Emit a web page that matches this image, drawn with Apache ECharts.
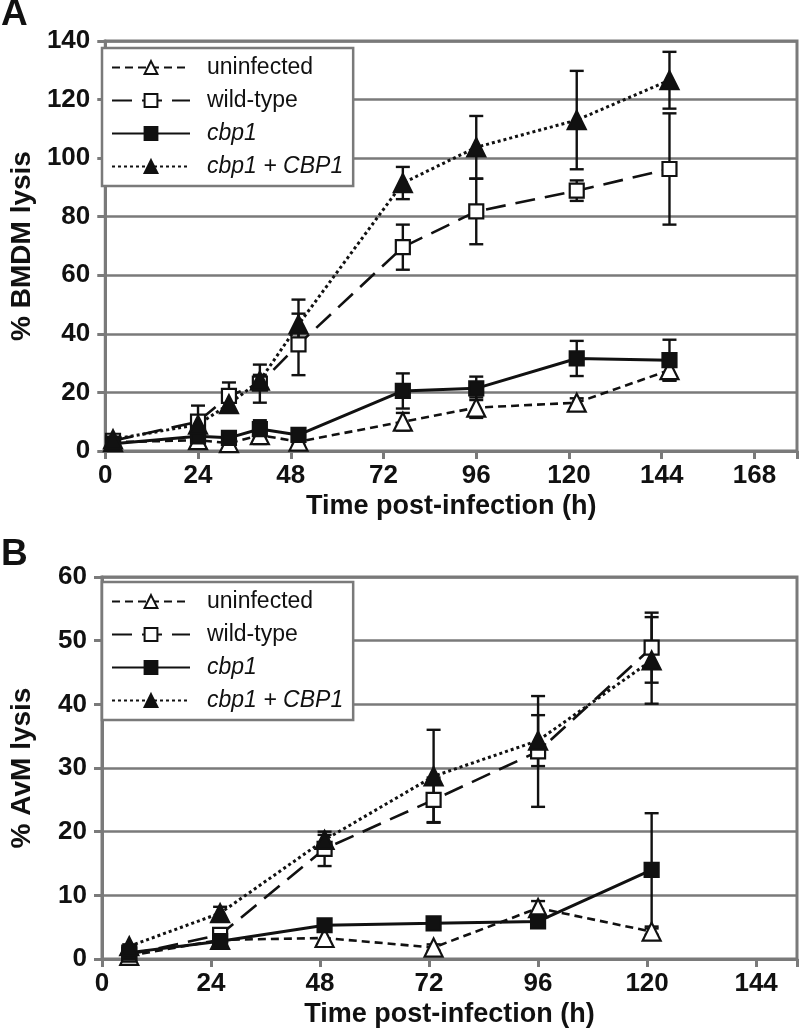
<!DOCTYPE html>
<html>
<head>
<meta charset="utf-8">
<script src="https://cdn.jsdelivr.net/npm/echarts@6/dist/echarts.min.js"></script>
<style>html,body{margin:0;padding:0;background:#fff;}#c{width:800px;height:1031px;}</style>
</head>
<body>
<div id="c"></div>
<script>
// ---- Panel A data (BMDM) ----
const timeA = [2, 24, 32, 40, 50, 77, 96, 122, 146];
const uninfA = [3, 3.7, 2.7, 5.4, 3.2, 10, 14.8, 16.5, 27.6];
const uninfAErr = [1, 1.5, 1.5, 3, 1, 3, 3.5, 1.5, 3.5];
const wtA = [3.5, 10, 18.8, 23, 36.4, 69.6, 81.8, 88.9, 96.3];
const wtAErr = [1, 5.5, 4.6, 6.5, 10.5, 7.7, 11.2, 3.5, 19];
const cbp1A = [2.5, 5, 4.5, 7.5, 5.5, 20.5, 21.4, 31.6, 31];
const cbp1AErr = [1, 2, 2, 3, 2, 6, 4, 6, 7];
const compA = [4, 9, 16, 24, 43.2, 91.5, 103.7, 113, 126.6];
const compAErr = [1, 2, 2, 2, 8.5, 5.5, 10.7, 16.8, 9.7];

// ---- Panel B data (AvM) ----
const timeB = [6, 26, 49, 73, 96, 121];
const uninfB = [0.5, 3, 3.3, 1.8, 8, 4.3];
const uninfBErr = [0.3, 0.5, 1, 0.5, 1.1, 0.5];
const wtB = [0.7, 3.8, 17.3, 25, 32.6, 48.9];
const wtBErr = [0.3, 0.5, 2.7, 3.5, 8.7, 5.5];
const cbp1B = [1, 2.8, 5.3, 5.6, 5.9, 14];
const cbp1BErr = [0.3, 0.5, 0.7, 0.8, 0.8, 8.9];
const compB = [2, 7.2, 18.7, 28.7, 34.3, 46.9];
const compBErr = [0.3, 1, 0.8, 7.3, 4, 6.8];

const seriesNames = ['uninfected', 'wild-type', 'cbp1', 'cbp1 + CBP1'];

const FONT = 'Liberation Sans, Arial, sans-serif';
const GRID = '#7a7a7a';

function pairs(t, v) { return t.map((x, i) => [x, v[i]]); }
function errData(t, v, e) { return t.map((x, i) => [x, v[i] - e[i], v[i] + e[i]]); }

const styles = [
  { symbol: 'triangle', size: 18, fill: '#fff', line: { type: [8, 5], width: 2.6 } },
  { symbol: 'rect', size: 14, fill: '#fff', line: { type: [20, 10], width: 2.6 } },
  { symbol: 'rect', size: 14, fill: '#111', line: { type: 'solid', width: 3 } },
  { symbol: 'triangle', size: 18, fill: '#111', line: { type: [3, 3], width: 3 } }
];

function errSeries(axisIdx, t, v, e) {
  return {
    type: 'custom', xAxisIndex: axisIdx, yAxisIndex: axisIdx,
    data: errData(t, v, e), animation: false, silent: true, z: 4,
    renderItem: function (params, api) {
      const x = api.value(0);
      const lo = api.coord([x, api.value(1)]);
      const hi = api.coord([x, api.value(2)]);
      const w = 7;
      const st = { stroke: '#111', lineWidth: 2.4 };
      return {
        type: 'group',
        children: [
          { type: 'line', shape: { x1: lo[0], y1: lo[1], x2: hi[0], y2: hi[1] }, style: st },
          { type: 'line', shape: { x1: lo[0] - w, y1: lo[1], x2: lo[0] + w, y2: lo[1] }, style: st },
          { type: 'line', shape: { x1: hi[0] - w, y1: hi[1], x2: hi[0] + w, y2: hi[1] }, style: st }
        ]
      };
    }
  };
}

function mk(axisIdx, idx, name, t, v) {
  const s = styles[idx];
  return {
    type: 'line', name: name, xAxisIndex: axisIdx, yAxisIndex: axisIdx,
    data: pairs(t, v), symbol: s.symbol, symbolSize: s.size,
    showAllSymbol: true,
    lineStyle: { color: '#111', width: s.line.width, type: s.line.type },
    itemStyle: { color: s.fill, borderColor: '#111', borderWidth: 2.2 },
    emphasis: { disabled: true }, animation: false, z: 5
  };
}

const series = [
  errSeries(0, timeA, uninfA, uninfAErr),
  errSeries(0, timeA, wtA, wtAErr),
  errSeries(0, timeA, cbp1A, cbp1AErr),
  errSeries(0, timeA, compA, compAErr),
  mk(0, 0, seriesNames[0], timeA, uninfA),
  mk(0, 1, seriesNames[1], timeA, wtA),
  mk(0, 2, seriesNames[2], timeA, cbp1A),
  mk(0, 3, seriesNames[3], timeA, compA),
  errSeries(1, timeB, uninfB, uninfBErr),
  errSeries(1, timeB, wtB, wtBErr),
  errSeries(1, timeB, cbp1B, cbp1BErr),
  errSeries(1, timeB, compB, compBErr),
  mk(1, 0, seriesNames[0], timeB, uninfB),
  mk(1, 1, seriesNames[1], timeB, wtB),
  mk(1, 2, seriesNames[2], timeB, cbp1B),
  mk(1, 3, seriesNames[3], timeB, compB)
];

const legendData = seriesNames.map((n, i) => i >= 2
  ? { name: n, textStyle: { fontStyle: 'italic' } } : { name: n });

function legend(top) {
  return {
    data: legendData, orient: 'vertical', left: 102, top: top,
    itemWidth: 78, itemHeight: 16, itemGap: 10,
    padding: [8, 10, 8, 9],
    backgroundColor: '#fff', borderColor: GRID, borderWidth: 2.5,
    selectedMode: false,
    textStyle: { fontFamily: FONT, fontSize: 23, color: '#111', padding: [0, 0, 0, 12] }
  };
}

function xAxis(gi, max) {
  return {
    type: 'value', gridIndex: gi, min: 0, max: max, interval: 24,
    name: 'Time post-infection (h)', nameLocation: 'middle', nameGap: 42,
    nameTextStyle: { fontFamily: FONT, fontSize: 27, fontWeight: 'bold', color: '#111' },
    axisLine: { show: true, lineStyle: { color: GRID, width: 3 } },
    axisTick: { show: true, length: 8, lineStyle: { color: GRID, width: 3 } },
    axisLabel: {
      fontFamily: FONT, fontSize: 26, fontWeight: 'bold', color: '#111', margin: 12,
      formatter: v => (v % 24 === 0 ? String(v) : '')
    },
    splitLine: { show: false }
  };
}

function yAxis(gi, max, interval, name) {
  return {
    type: 'value', gridIndex: gi, min: 0, max: max, interval: interval,
    name: name, nameLocation: 'middle', nameGap: 66, nameRotate: 90,
    nameTextStyle: { fontFamily: FONT, fontSize: 28, fontWeight: 'bold', color: '#111' },
    axisLine: { show: true, lineStyle: { color: GRID, width: 3 } },
    axisTick: { show: true, length: 8, lineStyle: { color: GRID, width: 3 } },
    axisLabel: { fontFamily: FONT, fontSize: 26, fontWeight: 'bold', color: '#111', margin: 15 },
    splitLine: { show: true, lineStyle: { color: GRID, width: 2.5 } }
  };
}

const chart = echarts.init(document.getElementById('c'), null, { renderer: 'canvas' });
chart.setOption({
  backgroundColor: '#fff',
  animation: false,
  grid: [
    { left: 93, top: 41, width: 704, height: 410, show: true, borderColor: GRID, borderWidth: 3, backgroundColor: 'transparent' },
    { left: 93, top: 577, width: 704, height: 382, show: true, borderColor: GRID, borderWidth: 3, backgroundColor: 'transparent' }
  ],
  xAxis: [xAxis(0, 179), xAxis(1, 153)],
  yAxis: [yAxis(0, 140, 20, '% BMDM lysis'), yAxis(1, 60, 10, '% AvM lysis')],
  legend: [legend(48), legend(582)],
  graphic: [
    { type: 'text', left: 1, top: -4, style: { text: 'A', font: 'bold 37px ' + FONT, fill: '#111' } },
    { type: 'text', left: 1, top: 536, style: { text: 'B', font: 'bold 37px ' + FONT, fill: '#111' } }
  ],
  series: series
});
</script>
</body>
</html>
